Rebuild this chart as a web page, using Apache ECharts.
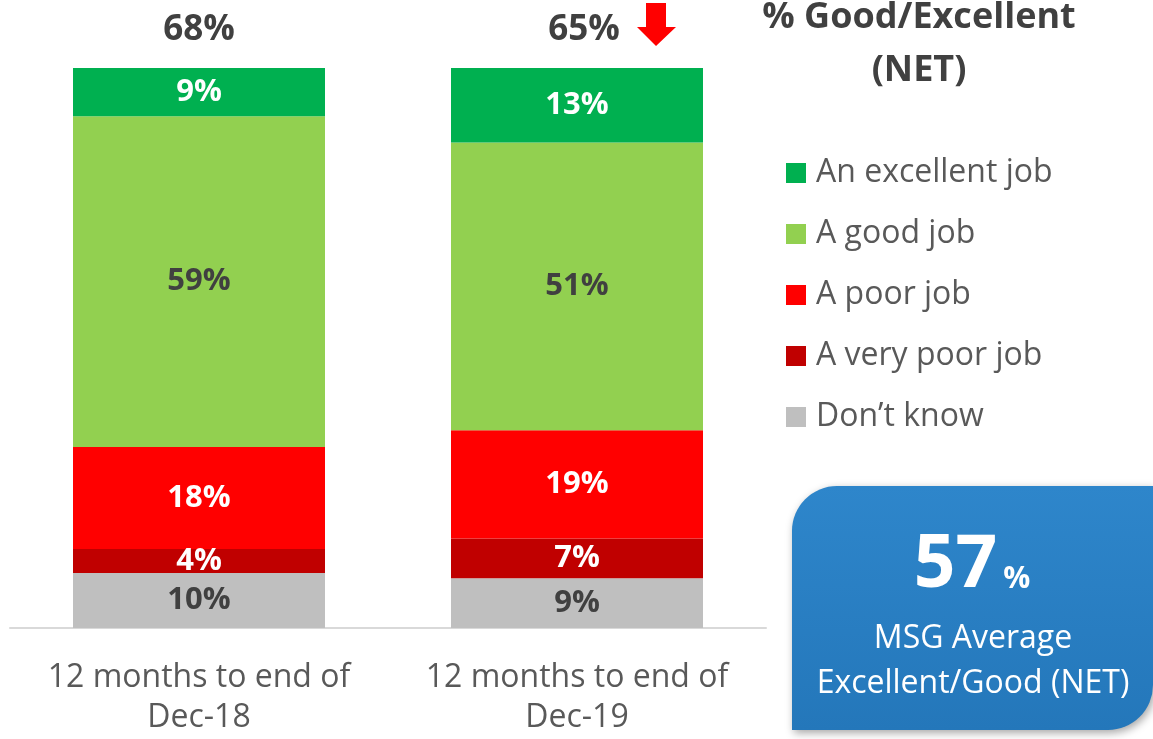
<!DOCTYPE html>
<html>
<head>
<meta charset="utf-8">
<script src="https://cdn.jsdelivr.net/npm/echarts@6/dist/echarts.min.js"></script>
<style>
html,body{margin:0;padding:0;background:#fff;}
#main{width:1153px;height:739px;}
</style>
</head>
<body>
<div id="main"></div>
<script>
// data (segment heights estimated, labels show the rounded value)
var periods = ['12 months to end of\nDec-18', '12 months to end of\nDec-19'];
var dontKnow = [9.8, 8.9];
var veryPoor = [4.3, 7.1];
var poor = [18.2, 19.3];
var good = [59.1, 51.4];
var excellent = [8.6, 13.3];
var netGood = [68, 65];
var msgAverage = 57;

var legendOrder = ['An excellent job', 'A good job', 'A poor job', 'A very poor job', 'Don\u2019t know'];

var dark = '#404040';
var font = 'Open Sans';

function seg(name, values, color, labelColor) {
  return {
    name: name,
    type: 'bar',
    stack: 'total',
    barWidth: 252,
    data: values,
    itemStyle: { color: color },
    label: {
      show: true,
      position: 'inside',
      formatter: function (p) { return Math.round(p.value) + '%'; },
      color: labelColor,
      fontFamily: font,
      fontWeight: 'bold',
      fontSize: 31
    }
  };
}

var chart = echarts.init(document.getElementById('main'));

var option = {
  animation: false,
  grid: { left: 10, right: 387, top: 68, bottom: 111 },
  legend: {
    data: legendOrder,
    orient: 'vertical',
    left: 786,
    top: 155,
    padding: 0,
    icon: 'rect',
    itemWidth: 20,
    itemHeight: 20,
    itemGap: 25,
    selectedMode: false,
    textStyle: {
      color: '#595959',
      fontFamily: font,
      fontSize: 32,
      lineHeight: 36,
      padding: [0, 0, 0, 5]
    }
  },
  xAxis: {
    type: 'category',
    data: periods,
    axisTick: { show: false },
    axisLine: { lineStyle: { color: '#d9d9d9', width: 2 } },
    axisLabel: {
      interval: 0,
      color: '#595959',
      fontFamily: font,
      fontSize: 32,
      lineHeight: 40,
      margin: 30
    }
  },
  yAxis: { type: 'value', min: 0, max: 100, show: false },
  series: [
    seg('Don\u2019t know', dontKnow, '#bfbfbf', dark),
    seg('A very poor job', veryPoor, '#c00000', '#fff'),
    seg('A poor job', poor, '#ff0000', '#fff'),
    seg('A good job', good, '#92d050', dark),
    seg('An excellent job', excellent, '#00b050', '#fff'),
    {
      name: 'net',
      type: 'scatter',
      symbolSize: 1,
      itemStyle: { color: 'rgba(0,0,0,0)', opacity: 1 },
      data: netGood.map(function (v, i) {
        return { value: [i, 100], net: v, label: { offset: [i === 1 ? 7 : 0, 0] } };
      }),
      label: {
        show: true,
        position: 'top',
        distance: 20,
        formatter: function (p) { return p.data.net + '%'; },
        color: dark,
        fontFamily: font,
        fontWeight: 'bold',
        fontSize: 35
      }
    }
  ],
  graphic: [
    {
      type: 'polygon',
      shape: { points: [[646, 3], [666, 3], [666, 27], [676, 27], [656, 46], [637, 27], [646, 27]] },
      style: { fill: '#ff0000' }
    },
    {
      type: 'text',
      x: 919,
      y: 44,
      style: {
        text: '% Good/Excellent\n(NET)',
        fill: dark,
        font: 'bold 36px "Open Sans"',
        lineHeight: 53,
        align: 'center',
        verticalAlign: 'middle'
      }
    },
    {
      type: 'rect',
      shape: { x: 792, y: 486, width: 361, height: 244, r: [45, 0, 45, 0] },
      style: {
        fill: new echarts.graphic.LinearGradient(0, 0, 0, 1, [
          { offset: 0, color: '#2e86cb' },
          { offset: 1, color: '#2477ba' }
        ]),
        shadowBlur: 8,
        shadowOffsetX: 2,
        shadowOffsetY: 3,
        shadowColor: 'rgba(0,0,0,0.35)'
      }
    },
    {
      type: 'text',
      x: 972,
      y: 566,
      style: {
        text: '{big|' + msgAverage + '}{pct|%}',
        align: 'center',
        verticalAlign: 'middle',
        rich: {
          big: { font: 'bold 73px "Open Sans"', fill: '#fff', padding: [0, 6, 0, 0] },
          pct: { font: 'bold 30px "Open Sans"', fill: '#fff', padding: [26, 0, 0, 0] }
        }
      }
    },
    {
      type: 'text',
      x: 973,
      y: 661,
      style: {
        text: 'MSG Average\nExcellent/Good (NET)',
        fill: '#fff',
        font: '32px "Open Sans"',
        lineHeight: 45,
        align: 'center',
        verticalAlign: 'middle'
      }
    }
  ]
};

chart.setOption(option);
</script>
</body>
</html>
